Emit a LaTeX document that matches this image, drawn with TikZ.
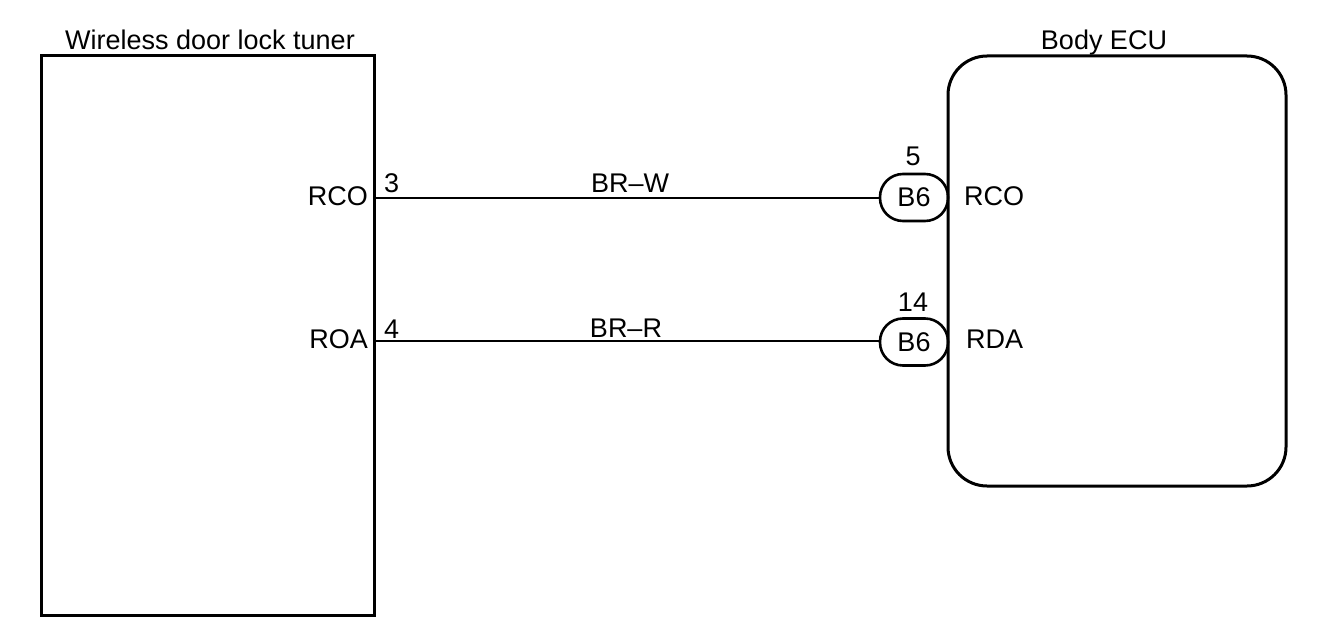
\documentclass[tikz,border=0pt]{standalone}
\usepackage{fontspec}
\setmainfont{Liberation Sans}
\begin{document}
\begin{tikzpicture}[x=1pt,y=-1pt,
  lbl/.style={font=\fontsize{27}{30}\selectfont,inner sep=0pt},
  boxline/.style={line width=3pt},
  wire/.style={line width=2pt},
  pill/.style={draw,line width=2.6pt,rounded corners=23pt,minimum width=68pt,minimum height=47pt,inner sep=0pt,lbl}]
\useasboundingbox (0,0) rectangle (1328,642);
% left box
\draw[boxline] (41,56) rectangle (374,615);
\node[lbl,anchor=base] (tt) at (210,50) {Wireless door lock tuner};
% right box
\draw[boxline,rounded corners=39pt] (948,56) rectangle (1286,486);
\node[lbl,anchor=base] (bt) at (1104,49) {Body ECU};
% connectors
\node[pill] (p1) at (914,197.5) {B6};
\node[pill] (p2) at (914,342) {B6};
\coordinate (l1) at (374,197.5);
\coordinate (l2) at (374,341);
\draw[wire] (l1) -- (p1.west);
\draw[wire] (l2) -- (p2.west|-l2);
% labels
\node[lbl,anchor=base east] (rco1) at (368,205) {RCO};
\node[lbl,anchor=base east] (roa) at (368,348) {ROA};
\node[lbl,anchor=base west] (n3) at (384,192) {3};
\node[lbl,anchor=base west] (n4) at (384,338) {4};
\node[lbl,anchor=base] (w1) at (630,192) {BR–W};
\node[lbl,anchor=base] (w2) at (626,337) {BR–R};
\node[lbl,anchor=base] (n5) at (913,165) {5};
\node[lbl,anchor=base] (n14) at (913,311) {14};
\node[lbl,anchor=base west] (rco2) at (964,205) {RCO};
\node[lbl,anchor=base west] (rda) at (966,348) {RDA};
\end{tikzpicture}
\end{document}
